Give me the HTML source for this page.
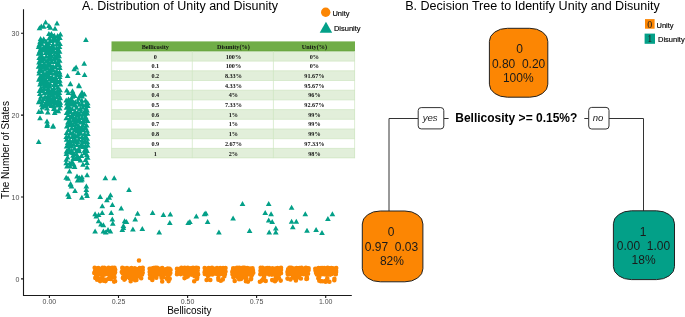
<!DOCTYPE html>
<html><head><meta charset="utf-8">
<style>
html,body{margin:0;padding:0;background:#fff;width:685px;height:317px;overflow:hidden}
svg{display:block}
.s{font-family:"Liberation Sans",sans-serif}
.tb{font-family:"Liberation Serif",serif;font-weight:bold;font-size:6.6px;fill:#111}
.ax{font-family:"Liberation Sans",sans-serif;font-size:7px;fill:#4D4D4D}
</style></head>
<body>
<div style="will-change:transform;width:685px;height:317px"><svg width="685" height="317" viewBox="0 0 685 317">
<!-- titles -->
<text class="s" x="82" y="9.6" font-size="12.5" fill="#000">A. Distribution of Unity and Disunity</text>
<text class="s" x="405.2" y="9.6" font-size="12.55" fill="#000">B. Decision Tree to Identify Unity and Disunity</text>

<!-- legend A -->
<circle cx="325.7" cy="12.3" r="4.7" fill="#FC8603"/>
<text class="s" x="332.4" y="15.9" font-size="7.5" fill="#000" stroke="#000" stroke-width="0.15">Unity</text>
<polygon points="319.7,32.8 332.2,32.8 325.95,21.7" fill="#03A088"/>
<text class="s" x="333.9" y="31.3" font-size="7.5" fill="#000" stroke="#000" stroke-width="0.15">Disunity</text>

<!-- axes -->
<g stroke="#1a1a1a" stroke-width="1.1" fill="none">
<path d="M23.5 9.2V295.5H351.8"/>
<path d="M21 278.9H23.5M21 197H23.5M21 115.1H23.5M21 33.2H23.5"/>
<path d="M49.4 295.5V298M118.5 295.5V298M187.6 295.5V298M256.6 295.5V298M325.7 295.5V298"/>
</g>
<g class="ax" text-anchor="end">
<text x="19.4" y="281.9">0</text>
<text x="19.4" y="200">10</text>
<text x="19.4" y="118.1">20</text>
<text x="19.4" y="36.2">30</text>
</g>
<g class="ax" text-anchor="middle">
<text x="49.4" y="304.2">0.00</text>
<text x="118.5" y="304.2">0.25</text>
<text x="187.6" y="304.2">0.50</text>
<text x="256.6" y="304.2">0.75</text>
<text x="325.7" y="304.2">1.00</text>
</g>
<text class="s" x="189.4" y="314.3" font-size="10" text-anchor="middle" fill="#000">Bellicosity</text>
<text class="s" transform="translate(8.6,150) rotate(-90)" font-size="10" text-anchor="middle" fill="#000">The Number of States</text>

<!-- scatter -->
<path fill="#FC8603" d="M98.5 269.0a2.3 2.3 0 1 0 4.6 0a2.3 2.3 0 1 0 -4.6 0zM101.5 271.0a2.3 2.3 0 1 0 4.6 0a2.3 2.3 0 1 0 -4.6 0zM108.3 269.3a2.3 2.3 0 1 0 4.6 0a2.3 2.3 0 1 0 -4.6 0zM107.4 272.6a2.3 2.3 0 1 0 4.6 0a2.3 2.3 0 1 0 -4.6 0zM93.6 272.8a2.3 2.3 0 1 0 4.6 0a2.3 2.3 0 1 0 -4.6 0zM96.8 272.6a2.3 2.3 0 1 0 4.6 0a2.3 2.3 0 1 0 -4.6 0zM104.1 270.1a2.3 2.3 0 1 0 4.6 0a2.3 2.3 0 1 0 -4.6 0zM111.1 269.2a2.3 2.3 0 1 0 4.6 0a2.3 2.3 0 1 0 -4.6 0zM101.0 269.3a2.3 2.3 0 1 0 4.6 0a2.3 2.3 0 1 0 -4.6 0zM100.3 274.2a2.3 2.3 0 1 0 4.6 0a2.3 2.3 0 1 0 -4.6 0zM93.0 269.5a2.3 2.3 0 1 0 4.6 0a2.3 2.3 0 1 0 -4.6 0zM105.5 273.5a2.3 2.3 0 1 0 4.6 0a2.3 2.3 0 1 0 -4.6 0zM109.2 272.4a2.3 2.3 0 1 0 4.6 0a2.3 2.3 0 1 0 -4.6 0zM106.3 267.9a2.3 2.3 0 1 0 4.6 0a2.3 2.3 0 1 0 -4.6 0zM94.0 268.2a2.3 2.3 0 1 0 4.6 0a2.3 2.3 0 1 0 -4.6 0zM94.3 271.1a2.3 2.3 0 1 0 4.6 0a2.3 2.3 0 1 0 -4.6 0zM106.9 274.4a2.3 2.3 0 1 0 4.6 0a2.3 2.3 0 1 0 -4.6 0zM112.2 273.7a2.3 2.3 0 1 0 4.6 0a2.3 2.3 0 1 0 -4.6 0zM111.7 270.8a2.3 2.3 0 1 0 4.6 0a2.3 2.3 0 1 0 -4.6 0zM109.0 274.1a2.3 2.3 0 1 0 4.6 0a2.3 2.3 0 1 0 -4.6 0zM98.8 272.6a2.3 2.3 0 1 0 4.6 0a2.3 2.3 0 1 0 -4.6 0zM112.2 267.8a2.3 2.3 0 1 0 4.6 0a2.3 2.3 0 1 0 -4.6 0zM96.0 268.0a2.3 2.3 0 1 0 4.6 0a2.3 2.3 0 1 0 -4.6 0zM110.6 273.2a2.3 2.3 0 1 0 4.6 0a2.3 2.3 0 1 0 -4.6 0zM99.5 270.8a2.3 2.3 0 1 0 4.6 0a2.3 2.3 0 1 0 -4.6 0zM98.1 274.5a2.3 2.3 0 1 0 4.6 0a2.3 2.3 0 1 0 -4.6 0zM105.5 271.0a2.3 2.3 0 1 0 4.6 0a2.3 2.3 0 1 0 -4.6 0zM100.4 272.2a2.3 2.3 0 1 0 4.6 0a2.3 2.3 0 1 0 -4.6 0zM103.9 272.3a2.3 2.3 0 1 0 4.6 0a2.3 2.3 0 1 0 -4.6 0zM92.0 272.9a2.3 2.3 0 1 0 4.6 0a2.3 2.3 0 1 0 -4.6 0zM103.4 268.6a2.3 2.3 0 1 0 4.6 0a2.3 2.3 0 1 0 -4.6 0zM108.5 270.9a2.3 2.3 0 1 0 4.6 0a2.3 2.3 0 1 0 -4.6 0zM92.7 271.4a2.3 2.3 0 1 0 4.6 0a2.3 2.3 0 1 0 -4.6 0zM101.9 274.6a2.3 2.3 0 1 0 4.6 0a2.3 2.3 0 1 0 -4.6 0zM97.5 270.8a2.3 2.3 0 1 0 4.6 0a2.3 2.3 0 1 0 -4.6 0zM93.6 274.6a2.3 2.3 0 1 0 4.6 0a2.3 2.3 0 1 0 -4.6 0zM95.5 274.1a2.3 2.3 0 1 0 4.6 0a2.3 2.3 0 1 0 -4.6 0zM92.4 267.8a2.3 2.3 0 1 0 4.6 0a2.3 2.3 0 1 0 -4.6 0zM95.9 269.6a2.3 2.3 0 1 0 4.6 0a2.3 2.3 0 1 0 -4.6 0zM100.2 267.8a2.3 2.3 0 1 0 4.6 0a2.3 2.3 0 1 0 -4.6 0zM109.9 267.8a2.3 2.3 0 1 0 4.6 0a2.3 2.3 0 1 0 -4.6 0zM103.4 274.1a2.3 2.3 0 1 0 4.6 0a2.3 2.3 0 1 0 -4.6 0zM112.8 272.2a2.3 2.3 0 1 0 4.6 0a2.3 2.3 0 1 0 -4.6 0zM101.9 267.7a2.3 2.3 0 1 0 4.6 0a2.3 2.3 0 1 0 -4.6 0zM102.3 272.6a2.3 2.3 0 1 0 4.6 0a2.3 2.3 0 1 0 -4.6 0zM106.6 269.5a2.3 2.3 0 1 0 4.6 0a2.3 2.3 0 1 0 -4.6 0zM112.9 269.7a2.3 2.3 0 1 0 4.6 0a2.3 2.3 0 1 0 -4.6 0zM101.4 280.7a2.3 2.3 0 1 0 4.6 0a2.3 2.3 0 1 0 -4.6 0zM97.8 281.1a2.3 2.3 0 1 0 4.6 0a2.3 2.3 0 1 0 -4.6 0zM102.6 279.7a2.3 2.3 0 1 0 4.6 0a2.3 2.3 0 1 0 -4.6 0zM101.5 279.2a2.3 2.3 0 1 0 4.6 0a2.3 2.3 0 1 0 -4.6 0zM112.2 277.3a2.3 2.3 0 1 0 4.6 0a2.3 2.3 0 1 0 -4.6 0zM106.1 278.7a2.3 2.3 0 1 0 4.6 0a2.3 2.3 0 1 0 -4.6 0zM94.7 276.1a2.3 2.3 0 1 0 4.6 0a2.3 2.3 0 1 0 -4.6 0zM99.8 278.6a2.3 2.3 0 1 0 4.6 0a2.3 2.3 0 1 0 -4.6 0zM96.4 278.7a2.3 2.3 0 1 0 4.6 0a2.3 2.3 0 1 0 -4.6 0zM111.8 281.6a2.3 2.3 0 1 0 4.6 0a2.3 2.3 0 1 0 -4.6 0zM100.8 279.7a2.3 2.3 0 1 0 4.6 0a2.3 2.3 0 1 0 -4.6 0zM112.8 281.3a2.3 2.3 0 1 0 4.6 0a2.3 2.3 0 1 0 -4.6 0zM93.0 277.9a2.3 2.3 0 1 0 4.6 0a2.3 2.3 0 1 0 -4.6 0zM107.3 278.0a2.3 2.3 0 1 0 4.6 0a2.3 2.3 0 1 0 -4.6 0zM103.2 281.1a2.3 2.3 0 1 0 4.6 0a2.3 2.3 0 1 0 -4.6 0zM108.3 279.0a2.3 2.3 0 1 0 4.6 0a2.3 2.3 0 1 0 -4.6 0zM103.5 280.4a2.3 2.3 0 1 0 4.6 0a2.3 2.3 0 1 0 -4.6 0zM94.3 276.3a2.3 2.3 0 1 0 4.6 0a2.3 2.3 0 1 0 -4.6 0zM110.8 276.5a2.3 2.3 0 1 0 4.6 0a2.3 2.3 0 1 0 -4.6 0zM107.2 275.8a2.3 2.3 0 1 0 4.6 0a2.3 2.3 0 1 0 -4.6 0zM101.6 280.5a2.3 2.3 0 1 0 4.6 0a2.3 2.3 0 1 0 -4.6 0zM94.8 279.8a2.3 2.3 0 1 0 4.6 0a2.3 2.3 0 1 0 -4.6 0zM130.5 269.0a2.3 2.3 0 1 0 4.6 0a2.3 2.3 0 1 0 -4.6 0zM139.2 271.7a2.3 2.3 0 1 0 4.6 0a2.3 2.3 0 1 0 -4.6 0zM136.2 274.4a2.3 2.3 0 1 0 4.6 0a2.3 2.3 0 1 0 -4.6 0zM132.5 272.6a2.3 2.3 0 1 0 4.6 0a2.3 2.3 0 1 0 -4.6 0zM135.3 270.6a2.3 2.3 0 1 0 4.6 0a2.3 2.3 0 1 0 -4.6 0zM128.1 269.9a2.3 2.3 0 1 0 4.6 0a2.3 2.3 0 1 0 -4.6 0zM134.3 273.8a2.3 2.3 0 1 0 4.6 0a2.3 2.3 0 1 0 -4.6 0zM123.7 273.1a2.3 2.3 0 1 0 4.6 0a2.3 2.3 0 1 0 -4.6 0zM136.3 272.3a2.3 2.3 0 1 0 4.6 0a2.3 2.3 0 1 0 -4.6 0zM127.2 273.9a2.3 2.3 0 1 0 4.6 0a2.3 2.3 0 1 0 -4.6 0zM130.0 270.8a2.3 2.3 0 1 0 4.6 0a2.3 2.3 0 1 0 -4.6 0zM140.4 267.8a2.3 2.3 0 1 0 4.6 0a2.3 2.3 0 1 0 -4.6 0zM129.1 268.0a2.3 2.3 0 1 0 4.6 0a2.3 2.3 0 1 0 -4.6 0zM121.6 268.2a2.3 2.3 0 1 0 4.6 0a2.3 2.3 0 1 0 -4.6 0zM138.7 269.6a2.3 2.3 0 1 0 4.6 0a2.3 2.3 0 1 0 -4.6 0zM123.1 271.2a2.3 2.3 0 1 0 4.6 0a2.3 2.3 0 1 0 -4.6 0zM135.6 269.0a2.3 2.3 0 1 0 4.6 0a2.3 2.3 0 1 0 -4.6 0zM125.1 270.2a2.3 2.3 0 1 0 4.6 0a2.3 2.3 0 1 0 -4.6 0zM122.5 274.4a2.3 2.3 0 1 0 4.6 0a2.3 2.3 0 1 0 -4.6 0zM120.4 273.5a2.3 2.3 0 1 0 4.6 0a2.3 2.3 0 1 0 -4.6 0zM134.0 271.7a2.3 2.3 0 1 0 4.6 0a2.3 2.3 0 1 0 -4.6 0zM137.4 268.0a2.3 2.3 0 1 0 4.6 0a2.3 2.3 0 1 0 -4.6 0zM132.5 268.3a2.3 2.3 0 1 0 4.6 0a2.3 2.3 0 1 0 -4.6 0zM120.3 270.4a2.3 2.3 0 1 0 4.6 0a2.3 2.3 0 1 0 -4.6 0zM139.8 274.5a2.3 2.3 0 1 0 4.6 0a2.3 2.3 0 1 0 -4.6 0zM120.0 267.9a2.3 2.3 0 1 0 4.6 0a2.3 2.3 0 1 0 -4.6 0zM131.3 274.2a2.3 2.3 0 1 0 4.6 0a2.3 2.3 0 1 0 -4.6 0zM127.4 271.8a2.3 2.3 0 1 0 4.6 0a2.3 2.3 0 1 0 -4.6 0zM129.6 273.6a2.3 2.3 0 1 0 4.6 0a2.3 2.3 0 1 0 -4.6 0zM131.8 270.3a2.3 2.3 0 1 0 4.6 0a2.3 2.3 0 1 0 -4.6 0zM125.7 272.6a2.3 2.3 0 1 0 4.6 0a2.3 2.3 0 1 0 -4.6 0zM123.3 268.9a2.3 2.3 0 1 0 4.6 0a2.3 2.3 0 1 0 -4.6 0zM125.2 274.3a2.3 2.3 0 1 0 4.6 0a2.3 2.3 0 1 0 -4.6 0zM126.0 268.9a2.3 2.3 0 1 0 4.6 0a2.3 2.3 0 1 0 -4.6 0zM137.5 273.4a2.3 2.3 0 1 0 4.6 0a2.3 2.3 0 1 0 -4.6 0zM137.5 270.9a2.3 2.3 0 1 0 4.6 0a2.3 2.3 0 1 0 -4.6 0zM124.7 268.0a2.3 2.3 0 1 0 4.6 0a2.3 2.3 0 1 0 -4.6 0zM140.4 269.9a2.3 2.3 0 1 0 4.6 0a2.3 2.3 0 1 0 -4.6 0zM121.9 272.7a2.3 2.3 0 1 0 4.6 0a2.3 2.3 0 1 0 -4.6 0zM119.5 272.0a2.3 2.3 0 1 0 4.6 0a2.3 2.3 0 1 0 -4.6 0zM133.9 269.2a2.3 2.3 0 1 0 4.6 0a2.3 2.3 0 1 0 -4.6 0zM130.8 272.3a2.3 2.3 0 1 0 4.6 0a2.3 2.3 0 1 0 -4.6 0zM140.4 272.8a2.3 2.3 0 1 0 4.6 0a2.3 2.3 0 1 0 -4.6 0zM132.8 280.2a2.3 2.3 0 1 0 4.6 0a2.3 2.3 0 1 0 -4.6 0zM134.1 279.9a2.3 2.3 0 1 0 4.6 0a2.3 2.3 0 1 0 -4.6 0zM120.6 277.9a2.3 2.3 0 1 0 4.6 0a2.3 2.3 0 1 0 -4.6 0zM122.4 278.3a2.3 2.3 0 1 0 4.6 0a2.3 2.3 0 1 0 -4.6 0zM138.9 278.2a2.3 2.3 0 1 0 4.6 0a2.3 2.3 0 1 0 -4.6 0zM123.1 276.0a2.3 2.3 0 1 0 4.6 0a2.3 2.3 0 1 0 -4.6 0zM126.0 277.0a2.3 2.3 0 1 0 4.6 0a2.3 2.3 0 1 0 -4.6 0zM129.5 277.2a2.3 2.3 0 1 0 4.6 0a2.3 2.3 0 1 0 -4.6 0zM132.4 277.8a2.3 2.3 0 1 0 4.6 0a2.3 2.3 0 1 0 -4.6 0zM129.8 279.0a2.3 2.3 0 1 0 4.6 0a2.3 2.3 0 1 0 -4.6 0zM122.0 279.6a2.3 2.3 0 1 0 4.6 0a2.3 2.3 0 1 0 -4.6 0zM135.6 276.4a2.3 2.3 0 1 0 4.6 0a2.3 2.3 0 1 0 -4.6 0zM128.4 281.3a2.3 2.3 0 1 0 4.6 0a2.3 2.3 0 1 0 -4.6 0zM127.9 278.0a2.3 2.3 0 1 0 4.6 0a2.3 2.3 0 1 0 -4.6 0zM122.6 279.0a2.3 2.3 0 1 0 4.6 0a2.3 2.3 0 1 0 -4.6 0zM127.2 278.1a2.3 2.3 0 1 0 4.6 0a2.3 2.3 0 1 0 -4.6 0zM163.4 269.2a2.3 2.3 0 1 0 4.6 0a2.3 2.3 0 1 0 -4.6 0zM151.1 268.1a2.3 2.3 0 1 0 4.6 0a2.3 2.3 0 1 0 -4.6 0zM153.3 273.4a2.3 2.3 0 1 0 4.6 0a2.3 2.3 0 1 0 -4.6 0zM153.3 269.8a2.3 2.3 0 1 0 4.6 0a2.3 2.3 0 1 0 -4.6 0zM165.8 273.4a2.3 2.3 0 1 0 4.6 0a2.3 2.3 0 1 0 -4.6 0zM155.7 270.5a2.3 2.3 0 1 0 4.6 0a2.3 2.3 0 1 0 -4.6 0zM147.4 271.9a2.3 2.3 0 1 0 4.6 0a2.3 2.3 0 1 0 -4.6 0zM167.3 268.7a2.3 2.3 0 1 0 4.6 0a2.3 2.3 0 1 0 -4.6 0zM165.5 268.6a2.3 2.3 0 1 0 4.6 0a2.3 2.3 0 1 0 -4.6 0zM151.5 272.2a2.3 2.3 0 1 0 4.6 0a2.3 2.3 0 1 0 -4.6 0zM157.6 271.6a2.3 2.3 0 1 0 4.6 0a2.3 2.3 0 1 0 -4.6 0zM160.4 271.8a2.3 2.3 0 1 0 4.6 0a2.3 2.3 0 1 0 -4.6 0zM162.7 271.7a2.3 2.3 0 1 0 4.6 0a2.3 2.3 0 1 0 -4.6 0zM168.0 273.0a2.3 2.3 0 1 0 4.6 0a2.3 2.3 0 1 0 -4.6 0zM157.3 268.8a2.3 2.3 0 1 0 4.6 0a2.3 2.3 0 1 0 -4.6 0zM148.3 270.1a2.3 2.3 0 1 0 4.6 0a2.3 2.3 0 1 0 -4.6 0zM158.9 269.3a2.3 2.3 0 1 0 4.6 0a2.3 2.3 0 1 0 -4.6 0zM161.8 269.2a2.3 2.3 0 1 0 4.6 0a2.3 2.3 0 1 0 -4.6 0zM149.0 272.7a2.3 2.3 0 1 0 4.6 0a2.3 2.3 0 1 0 -4.6 0zM161.6 274.0a2.3 2.3 0 1 0 4.6 0a2.3 2.3 0 1 0 -4.6 0zM154.8 267.7a2.3 2.3 0 1 0 4.6 0a2.3 2.3 0 1 0 -4.6 0zM159.9 268.1a2.3 2.3 0 1 0 4.6 0a2.3 2.3 0 1 0 -4.6 0zM156.0 272.1a2.3 2.3 0 1 0 4.6 0a2.3 2.3 0 1 0 -4.6 0zM159.9 274.4a2.3 2.3 0 1 0 4.6 0a2.3 2.3 0 1 0 -4.6 0zM166.5 270.8a2.3 2.3 0 1 0 4.6 0a2.3 2.3 0 1 0 -4.6 0zM164.5 271.8a2.3 2.3 0 1 0 4.6 0a2.3 2.3 0 1 0 -4.6 0zM149.1 268.8a2.3 2.3 0 1 0 4.6 0a2.3 2.3 0 1 0 -4.6 0zM147.6 274.5a2.3 2.3 0 1 0 4.6 0a2.3 2.3 0 1 0 -4.6 0zM158.8 273.0a2.3 2.3 0 1 0 4.6 0a2.3 2.3 0 1 0 -4.6 0zM149.9 274.3a2.3 2.3 0 1 0 4.6 0a2.3 2.3 0 1 0 -4.6 0zM152.9 267.8a2.3 2.3 0 1 0 4.6 0a2.3 2.3 0 1 0 -4.6 0zM156.2 274.3a2.3 2.3 0 1 0 4.6 0a2.3 2.3 0 1 0 -4.6 0zM164.1 273.9a2.3 2.3 0 1 0 4.6 0a2.3 2.3 0 1 0 -4.6 0zM149.8 270.7a2.3 2.3 0 1 0 4.6 0a2.3 2.3 0 1 0 -4.6 0zM151.5 270.5a2.3 2.3 0 1 0 4.6 0a2.3 2.3 0 1 0 -4.6 0zM153.9 271.6a2.3 2.3 0 1 0 4.6 0a2.3 2.3 0 1 0 -4.6 0zM151.7 274.3a2.3 2.3 0 1 0 4.6 0a2.3 2.3 0 1 0 -4.6 0zM168.2 270.0a2.3 2.3 0 1 0 4.6 0a2.3 2.3 0 1 0 -4.6 0zM154.5 274.5a2.3 2.3 0 1 0 4.6 0a2.3 2.3 0 1 0 -4.6 0zM147.3 268.8a2.3 2.3 0 1 0 4.6 0a2.3 2.3 0 1 0 -4.6 0zM157.9 274.6a2.3 2.3 0 1 0 4.6 0a2.3 2.3 0 1 0 -4.6 0zM167.3 274.5a2.3 2.3 0 1 0 4.6 0a2.3 2.3 0 1 0 -4.6 0zM164.5 278.8a2.3 2.3 0 1 0 4.6 0a2.3 2.3 0 1 0 -4.6 0zM150.3 276.1a2.3 2.3 0 1 0 4.6 0a2.3 2.3 0 1 0 -4.6 0zM153.8 276.2a2.3 2.3 0 1 0 4.6 0a2.3 2.3 0 1 0 -4.6 0zM147.7 277.9a2.3 2.3 0 1 0 4.6 0a2.3 2.3 0 1 0 -4.6 0zM150.0 279.9a2.3 2.3 0 1 0 4.6 0a2.3 2.3 0 1 0 -4.6 0zM166.3 281.1a2.3 2.3 0 1 0 4.6 0a2.3 2.3 0 1 0 -4.6 0zM154.0 277.8a2.3 2.3 0 1 0 4.6 0a2.3 2.3 0 1 0 -4.6 0zM161.1 277.1a2.3 2.3 0 1 0 4.6 0a2.3 2.3 0 1 0 -4.6 0zM159.3 277.8a2.3 2.3 0 1 0 4.6 0a2.3 2.3 0 1 0 -4.6 0zM167.4 278.8a2.3 2.3 0 1 0 4.6 0a2.3 2.3 0 1 0 -4.6 0zM159.9 281.5a2.3 2.3 0 1 0 4.6 0a2.3 2.3 0 1 0 -4.6 0zM165.5 278.0a2.3 2.3 0 1 0 4.6 0a2.3 2.3 0 1 0 -4.6 0zM165.3 278.0a2.3 2.3 0 1 0 4.6 0a2.3 2.3 0 1 0 -4.6 0zM150.9 276.3a2.3 2.3 0 1 0 4.6 0a2.3 2.3 0 1 0 -4.6 0zM186.8 273.9a2.3 2.3 0 1 0 4.6 0a2.3 2.3 0 1 0 -4.6 0zM184.1 272.4a2.3 2.3 0 1 0 4.6 0a2.3 2.3 0 1 0 -4.6 0zM177.6 268.8a2.3 2.3 0 1 0 4.6 0a2.3 2.3 0 1 0 -4.6 0zM181.3 273.7a2.3 2.3 0 1 0 4.6 0a2.3 2.3 0 1 0 -4.6 0zM190.4 272.4a2.3 2.3 0 1 0 4.6 0a2.3 2.3 0 1 0 -4.6 0zM174.7 274.3a2.3 2.3 0 1 0 4.6 0a2.3 2.3 0 1 0 -4.6 0zM178.8 271.4a2.3 2.3 0 1 0 4.6 0a2.3 2.3 0 1 0 -4.6 0zM193.9 267.7a2.3 2.3 0 1 0 4.6 0a2.3 2.3 0 1 0 -4.6 0zM178.4 274.1a2.3 2.3 0 1 0 4.6 0a2.3 2.3 0 1 0 -4.6 0zM188.9 274.6a2.3 2.3 0 1 0 4.6 0a2.3 2.3 0 1 0 -4.6 0zM195.2 272.4a2.3 2.3 0 1 0 4.6 0a2.3 2.3 0 1 0 -4.6 0zM185.9 271.8a2.3 2.3 0 1 0 4.6 0a2.3 2.3 0 1 0 -4.6 0zM188.0 268.3a2.3 2.3 0 1 0 4.6 0a2.3 2.3 0 1 0 -4.6 0zM176.5 273.1a2.3 2.3 0 1 0 4.6 0a2.3 2.3 0 1 0 -4.6 0zM189.5 268.9a2.3 2.3 0 1 0 4.6 0a2.3 2.3 0 1 0 -4.6 0zM184.2 268.8a2.3 2.3 0 1 0 4.6 0a2.3 2.3 0 1 0 -4.6 0zM181.0 268.8a2.3 2.3 0 1 0 4.6 0a2.3 2.3 0 1 0 -4.6 0zM182.9 274.3a2.3 2.3 0 1 0 4.6 0a2.3 2.3 0 1 0 -4.6 0zM175.6 270.3a2.3 2.3 0 1 0 4.6 0a2.3 2.3 0 1 0 -4.6 0zM185.8 270.0a2.3 2.3 0 1 0 4.6 0a2.3 2.3 0 1 0 -4.6 0zM195.3 270.4a2.3 2.3 0 1 0 4.6 0a2.3 2.3 0 1 0 -4.6 0zM192.0 269.3a2.3 2.3 0 1 0 4.6 0a2.3 2.3 0 1 0 -4.6 0zM180.9 270.8a2.3 2.3 0 1 0 4.6 0a2.3 2.3 0 1 0 -4.6 0zM192.4 274.0a2.3 2.3 0 1 0 4.6 0a2.3 2.3 0 1 0 -4.6 0zM188.4 271.3a2.3 2.3 0 1 0 4.6 0a2.3 2.3 0 1 0 -4.6 0zM193.6 271.8a2.3 2.3 0 1 0 4.6 0a2.3 2.3 0 1 0 -4.6 0zM182.7 269.5a2.3 2.3 0 1 0 4.6 0a2.3 2.3 0 1 0 -4.6 0zM174.9 272.1a2.3 2.3 0 1 0 4.6 0a2.3 2.3 0 1 0 -4.6 0zM195.6 268.0a2.3 2.3 0 1 0 4.6 0a2.3 2.3 0 1 0 -4.6 0zM179.1 267.8a2.3 2.3 0 1 0 4.6 0a2.3 2.3 0 1 0 -4.6 0zM180.2 272.4a2.3 2.3 0 1 0 4.6 0a2.3 2.3 0 1 0 -4.6 0zM174.7 268.9a2.3 2.3 0 1 0 4.6 0a2.3 2.3 0 1 0 -4.6 0zM183.1 271.0a2.3 2.3 0 1 0 4.6 0a2.3 2.3 0 1 0 -4.6 0zM185.5 267.7a2.3 2.3 0 1 0 4.6 0a2.3 2.3 0 1 0 -4.6 0zM190.0 270.6a2.3 2.3 0 1 0 4.6 0a2.3 2.3 0 1 0 -4.6 0zM194.0 274.3a2.3 2.3 0 1 0 4.6 0a2.3 2.3 0 1 0 -4.6 0zM191.6 271.1a2.3 2.3 0 1 0 4.6 0a2.3 2.3 0 1 0 -4.6 0zM184.6 273.9a2.3 2.3 0 1 0 4.6 0a2.3 2.3 0 1 0 -4.6 0zM179.0 269.8a2.3 2.3 0 1 0 4.6 0a2.3 2.3 0 1 0 -4.6 0zM190.7 267.9a2.3 2.3 0 1 0 4.6 0a2.3 2.3 0 1 0 -4.6 0zM190.7 274.2a2.3 2.3 0 1 0 4.6 0a2.3 2.3 0 1 0 -4.6 0zM187.5 269.8a2.3 2.3 0 1 0 4.6 0a2.3 2.3 0 1 0 -4.6 0zM177.1 271.1a2.3 2.3 0 1 0 4.6 0a2.3 2.3 0 1 0 -4.6 0zM182.5 272.6a2.3 2.3 0 1 0 4.6 0a2.3 2.3 0 1 0 -4.6 0zM182.4 267.8a2.3 2.3 0 1 0 4.6 0a2.3 2.3 0 1 0 -4.6 0zM195.8 274.4a2.3 2.3 0 1 0 4.6 0a2.3 2.3 0 1 0 -4.6 0zM193.6 269.7a2.3 2.3 0 1 0 4.6 0a2.3 2.3 0 1 0 -4.6 0zM183.7 277.2a2.3 2.3 0 1 0 4.6 0a2.3 2.3 0 1 0 -4.6 0zM192.2 276.2a2.3 2.3 0 1 0 4.6 0a2.3 2.3 0 1 0 -4.6 0zM182.2 278.1a2.3 2.3 0 1 0 4.6 0a2.3 2.3 0 1 0 -4.6 0zM185.4 276.5a2.3 2.3 0 1 0 4.6 0a2.3 2.3 0 1 0 -4.6 0zM194.9 277.6a2.3 2.3 0 1 0 4.6 0a2.3 2.3 0 1 0 -4.6 0zM191.9 281.3a2.3 2.3 0 1 0 4.6 0a2.3 2.3 0 1 0 -4.6 0zM194.8 278.8a2.3 2.3 0 1 0 4.6 0a2.3 2.3 0 1 0 -4.6 0zM193.5 276.0a2.3 2.3 0 1 0 4.6 0a2.3 2.3 0 1 0 -4.6 0zM222.6 274.2a2.3 2.3 0 1 0 4.6 0a2.3 2.3 0 1 0 -4.6 0zM206.4 268.0a2.3 2.3 0 1 0 4.6 0a2.3 2.3 0 1 0 -4.6 0zM220.8 268.0a2.3 2.3 0 1 0 4.6 0a2.3 2.3 0 1 0 -4.6 0zM211.2 271.2a2.3 2.3 0 1 0 4.6 0a2.3 2.3 0 1 0 -4.6 0zM220.6 270.6a2.3 2.3 0 1 0 4.6 0a2.3 2.3 0 1 0 -4.6 0zM208.5 273.6a2.3 2.3 0 1 0 4.6 0a2.3 2.3 0 1 0 -4.6 0zM208.1 268.8a2.3 2.3 0 1 0 4.6 0a2.3 2.3 0 1 0 -4.6 0zM219.0 272.8a2.3 2.3 0 1 0 4.6 0a2.3 2.3 0 1 0 -4.6 0zM205.5 274.5a2.3 2.3 0 1 0 4.6 0a2.3 2.3 0 1 0 -4.6 0zM207.1 271.6a2.3 2.3 0 1 0 4.6 0a2.3 2.3 0 1 0 -4.6 0zM204.9 268.7a2.3 2.3 0 1 0 4.6 0a2.3 2.3 0 1 0 -4.6 0zM222.3 270.0a2.3 2.3 0 1 0 4.6 0a2.3 2.3 0 1 0 -4.6 0zM217.1 274.5a2.3 2.3 0 1 0 4.6 0a2.3 2.3 0 1 0 -4.6 0zM206.5 269.9a2.3 2.3 0 1 0 4.6 0a2.3 2.3 0 1 0 -4.6 0zM215.1 270.3a2.3 2.3 0 1 0 4.6 0a2.3 2.3 0 1 0 -4.6 0zM219.6 269.0a2.3 2.3 0 1 0 4.6 0a2.3 2.3 0 1 0 -4.6 0zM202.4 268.1a2.3 2.3 0 1 0 4.6 0a2.3 2.3 0 1 0 -4.6 0zM220.1 274.1a2.3 2.3 0 1 0 4.6 0a2.3 2.3 0 1 0 -4.6 0zM216.3 269.0a2.3 2.3 0 1 0 4.6 0a2.3 2.3 0 1 0 -4.6 0zM213.1 268.5a2.3 2.3 0 1 0 4.6 0a2.3 2.3 0 1 0 -4.6 0zM213.7 273.7a2.3 2.3 0 1 0 4.6 0a2.3 2.3 0 1 0 -4.6 0zM223.2 271.6a2.3 2.3 0 1 0 4.6 0a2.3 2.3 0 1 0 -4.6 0zM208.6 270.7a2.3 2.3 0 1 0 4.6 0a2.3 2.3 0 1 0 -4.6 0zM202.5 274.0a2.3 2.3 0 1 0 4.6 0a2.3 2.3 0 1 0 -4.6 0zM215.4 274.1a2.3 2.3 0 1 0 4.6 0a2.3 2.3 0 1 0 -4.6 0zM205.6 272.8a2.3 2.3 0 1 0 4.6 0a2.3 2.3 0 1 0 -4.6 0zM223.2 268.0a2.3 2.3 0 1 0 4.6 0a2.3 2.3 0 1 0 -4.6 0zM202.7 270.7a2.3 2.3 0 1 0 4.6 0a2.3 2.3 0 1 0 -4.6 0zM216.7 271.2a2.3 2.3 0 1 0 4.6 0a2.3 2.3 0 1 0 -4.6 0zM214.3 272.1a2.3 2.3 0 1 0 4.6 0a2.3 2.3 0 1 0 -4.6 0zM212.7 270.8a2.3 2.3 0 1 0 4.6 0a2.3 2.3 0 1 0 -4.6 0zM211.4 273.7a2.3 2.3 0 1 0 4.6 0a2.3 2.3 0 1 0 -4.6 0zM204.0 273.0a2.3 2.3 0 1 0 4.6 0a2.3 2.3 0 1 0 -4.6 0zM211.2 268.8a2.3 2.3 0 1 0 4.6 0a2.3 2.3 0 1 0 -4.6 0zM220.9 272.7a2.3 2.3 0 1 0 4.6 0a2.3 2.3 0 1 0 -4.6 0zM218.1 270.1a2.3 2.3 0 1 0 4.6 0a2.3 2.3 0 1 0 -4.6 0zM217.9 268.0a2.3 2.3 0 1 0 4.6 0a2.3 2.3 0 1 0 -4.6 0zM217.0 272.9a2.3 2.3 0 1 0 4.6 0a2.3 2.3 0 1 0 -4.6 0zM204.4 270.7a2.3 2.3 0 1 0 4.6 0a2.3 2.3 0 1 0 -4.6 0zM202.3 272.3a2.3 2.3 0 1 0 4.6 0a2.3 2.3 0 1 0 -4.6 0zM209.7 272.0a2.3 2.3 0 1 0 4.6 0a2.3 2.3 0 1 0 -4.6 0zM209.6 269.5a2.3 2.3 0 1 0 4.6 0a2.3 2.3 0 1 0 -4.6 0zM212.4 272.4a2.3 2.3 0 1 0 4.6 0a2.3 2.3 0 1 0 -4.6 0zM214.7 268.0a2.3 2.3 0 1 0 4.6 0a2.3 2.3 0 1 0 -4.6 0zM209.7 267.9a2.3 2.3 0 1 0 4.6 0a2.3 2.3 0 1 0 -4.6 0zM207.2 274.6a2.3 2.3 0 1 0 4.6 0a2.3 2.3 0 1 0 -4.6 0zM209.9 274.4a2.3 2.3 0 1 0 4.6 0a2.3 2.3 0 1 0 -4.6 0zM216.0 278.0a2.3 2.3 0 1 0 4.6 0a2.3 2.3 0 1 0 -4.6 0zM216.1 279.8a2.3 2.3 0 1 0 4.6 0a2.3 2.3 0 1 0 -4.6 0zM204.3 280.0a2.3 2.3 0 1 0 4.6 0a2.3 2.3 0 1 0 -4.6 0zM218.5 280.7a2.3 2.3 0 1 0 4.6 0a2.3 2.3 0 1 0 -4.6 0zM220.5 279.4a2.3 2.3 0 1 0 4.6 0a2.3 2.3 0 1 0 -4.6 0zM208.0 280.0a2.3 2.3 0 1 0 4.6 0a2.3 2.3 0 1 0 -4.6 0zM205.6 276.1a2.3 2.3 0 1 0 4.6 0a2.3 2.3 0 1 0 -4.6 0zM222.1 276.3a2.3 2.3 0 1 0 4.6 0a2.3 2.3 0 1 0 -4.6 0zM232.6 270.4a2.3 2.3 0 1 0 4.6 0a2.3 2.3 0 1 0 -4.6 0zM250.2 268.3a2.3 2.3 0 1 0 4.6 0a2.3 2.3 0 1 0 -4.6 0zM237.5 269.4a2.3 2.3 0 1 0 4.6 0a2.3 2.3 0 1 0 -4.6 0zM233.1 268.3a2.3 2.3 0 1 0 4.6 0a2.3 2.3 0 1 0 -4.6 0zM250.6 270.3a2.3 2.3 0 1 0 4.6 0a2.3 2.3 0 1 0 -4.6 0zM240.9 272.7a2.3 2.3 0 1 0 4.6 0a2.3 2.3 0 1 0 -4.6 0zM242.8 270.9a2.3 2.3 0 1 0 4.6 0a2.3 2.3 0 1 0 -4.6 0zM248.5 268.6a2.3 2.3 0 1 0 4.6 0a2.3 2.3 0 1 0 -4.6 0zM239.4 269.0a2.3 2.3 0 1 0 4.6 0a2.3 2.3 0 1 0 -4.6 0zM246.7 270.5a2.3 2.3 0 1 0 4.6 0a2.3 2.3 0 1 0 -4.6 0zM245.1 271.7a2.3 2.3 0 1 0 4.6 0a2.3 2.3 0 1 0 -4.6 0zM241.9 269.4a2.3 2.3 0 1 0 4.6 0a2.3 2.3 0 1 0 -4.6 0zM248.3 274.3a2.3 2.3 0 1 0 4.6 0a2.3 2.3 0 1 0 -4.6 0zM243.8 272.8a2.3 2.3 0 1 0 4.6 0a2.3 2.3 0 1 0 -4.6 0zM231.4 272.8a2.3 2.3 0 1 0 4.6 0a2.3 2.3 0 1 0 -4.6 0zM234.7 267.9a2.3 2.3 0 1 0 4.6 0a2.3 2.3 0 1 0 -4.6 0zM239.0 272.0a2.3 2.3 0 1 0 4.6 0a2.3 2.3 0 1 0 -4.6 0zM233.4 272.6a2.3 2.3 0 1 0 4.6 0a2.3 2.3 0 1 0 -4.6 0zM230.9 268.3a2.3 2.3 0 1 0 4.6 0a2.3 2.3 0 1 0 -4.6 0zM235.8 272.6a2.3 2.3 0 1 0 4.6 0a2.3 2.3 0 1 0 -4.6 0zM235.2 269.5a2.3 2.3 0 1 0 4.6 0a2.3 2.3 0 1 0 -4.6 0zM248.7 272.3a2.3 2.3 0 1 0 4.6 0a2.3 2.3 0 1 0 -4.6 0zM230.2 274.3a2.3 2.3 0 1 0 4.6 0a2.3 2.3 0 1 0 -4.6 0zM230.7 270.1a2.3 2.3 0 1 0 4.6 0a2.3 2.3 0 1 0 -4.6 0zM245.2 274.5a2.3 2.3 0 1 0 4.6 0a2.3 2.3 0 1 0 -4.6 0zM236.9 274.0a2.3 2.3 0 1 0 4.6 0a2.3 2.3 0 1 0 -4.6 0zM244.9 268.1a2.3 2.3 0 1 0 4.6 0a2.3 2.3 0 1 0 -4.6 0zM241.6 274.5a2.3 2.3 0 1 0 4.6 0a2.3 2.3 0 1 0 -4.6 0zM250.9 272.7a2.3 2.3 0 1 0 4.6 0a2.3 2.3 0 1 0 -4.6 0zM234.9 271.2a2.3 2.3 0 1 0 4.6 0a2.3 2.3 0 1 0 -4.6 0zM241.0 270.8a2.3 2.3 0 1 0 4.6 0a2.3 2.3 0 1 0 -4.6 0zM232.7 274.5a2.3 2.3 0 1 0 4.6 0a2.3 2.3 0 1 0 -4.6 0zM242.3 267.8a2.3 2.3 0 1 0 4.6 0a2.3 2.3 0 1 0 -4.6 0zM239.4 274.0a2.3 2.3 0 1 0 4.6 0a2.3 2.3 0 1 0 -4.6 0zM246.3 272.9a2.3 2.3 0 1 0 4.6 0a2.3 2.3 0 1 0 -4.6 0zM249.9 274.5a2.3 2.3 0 1 0 4.6 0a2.3 2.3 0 1 0 -4.6 0zM243.8 269.5a2.3 2.3 0 1 0 4.6 0a2.3 2.3 0 1 0 -4.6 0zM234.6 273.9a2.3 2.3 0 1 0 4.6 0a2.3 2.3 0 1 0 -4.6 0zM246.9 268.6a2.3 2.3 0 1 0 4.6 0a2.3 2.3 0 1 0 -4.6 0zM237.5 271.0a2.3 2.3 0 1 0 4.6 0a2.3 2.3 0 1 0 -4.6 0zM243.2 274.4a2.3 2.3 0 1 0 4.6 0a2.3 2.3 0 1 0 -4.6 0zM248.7 270.6a2.3 2.3 0 1 0 4.6 0a2.3 2.3 0 1 0 -4.6 0zM240.5 267.9a2.3 2.3 0 1 0 4.6 0a2.3 2.3 0 1 0 -4.6 0zM237.0 267.8a2.3 2.3 0 1 0 4.6 0a2.3 2.3 0 1 0 -4.6 0zM230.0 271.9a2.3 2.3 0 1 0 4.6 0a2.3 2.3 0 1 0 -4.6 0zM245.7 281.6a2.3 2.3 0 1 0 4.6 0a2.3 2.3 0 1 0 -4.6 0zM240.7 277.5a2.3 2.3 0 1 0 4.6 0a2.3 2.3 0 1 0 -4.6 0zM248.8 279.1a2.3 2.3 0 1 0 4.6 0a2.3 2.3 0 1 0 -4.6 0zM236.8 279.2a2.3 2.3 0 1 0 4.6 0a2.3 2.3 0 1 0 -4.6 0zM239.3 275.8a2.3 2.3 0 1 0 4.6 0a2.3 2.3 0 1 0 -4.6 0zM244.1 278.5a2.3 2.3 0 1 0 4.6 0a2.3 2.3 0 1 0 -4.6 0zM248.8 278.8a2.3 2.3 0 1 0 4.6 0a2.3 2.3 0 1 0 -4.6 0zM238.2 278.1a2.3 2.3 0 1 0 4.6 0a2.3 2.3 0 1 0 -4.6 0zM235.3 277.0a2.3 2.3 0 1 0 4.6 0a2.3 2.3 0 1 0 -4.6 0zM238.7 279.0a2.3 2.3 0 1 0 4.6 0a2.3 2.3 0 1 0 -4.6 0zM232.4 280.9a2.3 2.3 0 1 0 4.6 0a2.3 2.3 0 1 0 -4.6 0zM243.6 281.2a2.3 2.3 0 1 0 4.6 0a2.3 2.3 0 1 0 -4.6 0zM231.1 277.2a2.3 2.3 0 1 0 4.6 0a2.3 2.3 0 1 0 -4.6 0zM239.1 276.1a2.3 2.3 0 1 0 4.6 0a2.3 2.3 0 1 0 -4.6 0zM249.1 276.1a2.3 2.3 0 1 0 4.6 0a2.3 2.3 0 1 0 -4.6 0zM237.3 276.0a2.3 2.3 0 1 0 4.6 0a2.3 2.3 0 1 0 -4.6 0zM275.3 273.9a2.3 2.3 0 1 0 4.6 0a2.3 2.3 0 1 0 -4.6 0zM262.8 273.2a2.3 2.3 0 1 0 4.6 0a2.3 2.3 0 1 0 -4.6 0zM276.8 271.6a2.3 2.3 0 1 0 4.6 0a2.3 2.3 0 1 0 -4.6 0zM268.5 268.8a2.3 2.3 0 1 0 4.6 0a2.3 2.3 0 1 0 -4.6 0zM258.2 270.8a2.3 2.3 0 1 0 4.6 0a2.3 2.3 0 1 0 -4.6 0zM274.3 270.0a2.3 2.3 0 1 0 4.6 0a2.3 2.3 0 1 0 -4.6 0zM271.1 271.7a2.3 2.3 0 1 0 4.6 0a2.3 2.3 0 1 0 -4.6 0zM264.6 273.6a2.3 2.3 0 1 0 4.6 0a2.3 2.3 0 1 0 -4.6 0zM266.5 269.7a2.3 2.3 0 1 0 4.6 0a2.3 2.3 0 1 0 -4.6 0zM259.0 273.0a2.3 2.3 0 1 0 4.6 0a2.3 2.3 0 1 0 -4.6 0zM267.1 274.4a2.3 2.3 0 1 0 4.6 0a2.3 2.3 0 1 0 -4.6 0zM262.6 270.4a2.3 2.3 0 1 0 4.6 0a2.3 2.3 0 1 0 -4.6 0zM264.9 268.1a2.3 2.3 0 1 0 4.6 0a2.3 2.3 0 1 0 -4.6 0zM263.0 268.5a2.3 2.3 0 1 0 4.6 0a2.3 2.3 0 1 0 -4.6 0zM258.4 267.8a2.3 2.3 0 1 0 4.6 0a2.3 2.3 0 1 0 -4.6 0zM275.2 268.0a2.3 2.3 0 1 0 4.6 0a2.3 2.3 0 1 0 -4.6 0zM268.6 270.5a2.3 2.3 0 1 0 4.6 0a2.3 2.3 0 1 0 -4.6 0zM271.3 269.9a2.3 2.3 0 1 0 4.6 0a2.3 2.3 0 1 0 -4.6 0zM269.6 274.6a2.3 2.3 0 1 0 4.6 0a2.3 2.3 0 1 0 -4.6 0zM260.7 269.5a2.3 2.3 0 1 0 4.6 0a2.3 2.3 0 1 0 -4.6 0zM276.7 268.8a2.3 2.3 0 1 0 4.6 0a2.3 2.3 0 1 0 -4.6 0zM276.9 274.2a2.3 2.3 0 1 0 4.6 0a2.3 2.3 0 1 0 -4.6 0zM278.7 269.9a2.3 2.3 0 1 0 4.6 0a2.3 2.3 0 1 0 -4.6 0zM266.8 271.5a2.3 2.3 0 1 0 4.6 0a2.3 2.3 0 1 0 -4.6 0zM270.1 268.4a2.3 2.3 0 1 0 4.6 0a2.3 2.3 0 1 0 -4.6 0zM264.8 271.3a2.3 2.3 0 1 0 4.6 0a2.3 2.3 0 1 0 -4.6 0zM274.0 273.0a2.3 2.3 0 1 0 4.6 0a2.3 2.3 0 1 0 -4.6 0zM278.7 273.3a2.3 2.3 0 1 0 4.6 0a2.3 2.3 0 1 0 -4.6 0zM273.2 268.5a2.3 2.3 0 1 0 4.6 0a2.3 2.3 0 1 0 -4.6 0zM271.9 274.4a2.3 2.3 0 1 0 4.6 0a2.3 2.3 0 1 0 -4.6 0zM269.3 272.2a2.3 2.3 0 1 0 4.6 0a2.3 2.3 0 1 0 -4.6 0zM260.2 274.2a2.3 2.3 0 1 0 4.6 0a2.3 2.3 0 1 0 -4.6 0zM261.0 271.7a2.3 2.3 0 1 0 4.6 0a2.3 2.3 0 1 0 -4.6 0zM259.0 269.4a2.3 2.3 0 1 0 4.6 0a2.3 2.3 0 1 0 -4.6 0zM258.0 274.3a2.3 2.3 0 1 0 4.6 0a2.3 2.3 0 1 0 -4.6 0zM266.8 268.0a2.3 2.3 0 1 0 4.6 0a2.3 2.3 0 1 0 -4.6 0zM278.7 267.8a2.3 2.3 0 1 0 4.6 0a2.3 2.3 0 1 0 -4.6 0zM260.1 267.8a2.3 2.3 0 1 0 4.6 0a2.3 2.3 0 1 0 -4.6 0zM267.7 272.9a2.3 2.3 0 1 0 4.6 0a2.3 2.3 0 1 0 -4.6 0zM272.8 270.8a2.3 2.3 0 1 0 4.6 0a2.3 2.3 0 1 0 -4.6 0zM264.5 269.7a2.3 2.3 0 1 0 4.6 0a2.3 2.3 0 1 0 -4.6 0zM272.3 272.8a2.3 2.3 0 1 0 4.6 0a2.3 2.3 0 1 0 -4.6 0zM275.0 271.7a2.3 2.3 0 1 0 4.6 0a2.3 2.3 0 1 0 -4.6 0zM273.5 274.6a2.3 2.3 0 1 0 4.6 0a2.3 2.3 0 1 0 -4.6 0zM275.4 276.8a2.3 2.3 0 1 0 4.6 0a2.3 2.3 0 1 0 -4.6 0zM261.8 276.9a2.3 2.3 0 1 0 4.6 0a2.3 2.3 0 1 0 -4.6 0zM273.7 280.1a2.3 2.3 0 1 0 4.6 0a2.3 2.3 0 1 0 -4.6 0zM273.5 277.3a2.3 2.3 0 1 0 4.6 0a2.3 2.3 0 1 0 -4.6 0zM263.4 280.9a2.3 2.3 0 1 0 4.6 0a2.3 2.3 0 1 0 -4.6 0zM257.6 281.7a2.3 2.3 0 1 0 4.6 0a2.3 2.3 0 1 0 -4.6 0zM272.7 281.2a2.3 2.3 0 1 0 4.6 0a2.3 2.3 0 1 0 -4.6 0zM276.6 278.0a2.3 2.3 0 1 0 4.6 0a2.3 2.3 0 1 0 -4.6 0zM278.4 280.6a2.3 2.3 0 1 0 4.6 0a2.3 2.3 0 1 0 -4.6 0zM259.5 280.6a2.3 2.3 0 1 0 4.6 0a2.3 2.3 0 1 0 -4.6 0zM260.6 279.4a2.3 2.3 0 1 0 4.6 0a2.3 2.3 0 1 0 -4.6 0zM269.9 280.1a2.3 2.3 0 1 0 4.6 0a2.3 2.3 0 1 0 -4.6 0zM304.5 269.3a2.3 2.3 0 1 0 4.6 0a2.3 2.3 0 1 0 -4.6 0zM296.9 271.2a2.3 2.3 0 1 0 4.6 0a2.3 2.3 0 1 0 -4.6 0zM292.5 268.6a2.3 2.3 0 1 0 4.6 0a2.3 2.3 0 1 0 -4.6 0zM294.2 271.5a2.3 2.3 0 1 0 4.6 0a2.3 2.3 0 1 0 -4.6 0zM305.0 272.3a2.3 2.3 0 1 0 4.6 0a2.3 2.3 0 1 0 -4.6 0zM295.1 270.0a2.3 2.3 0 1 0 4.6 0a2.3 2.3 0 1 0 -4.6 0zM302.4 271.9a2.3 2.3 0 1 0 4.6 0a2.3 2.3 0 1 0 -4.6 0zM286.9 272.5a2.3 2.3 0 1 0 4.6 0a2.3 2.3 0 1 0 -4.6 0zM293.0 273.9a2.3 2.3 0 1 0 4.6 0a2.3 2.3 0 1 0 -4.6 0zM306.3 269.9a2.3 2.3 0 1 0 4.6 0a2.3 2.3 0 1 0 -4.6 0zM290.0 272.4a2.3 2.3 0 1 0 4.6 0a2.3 2.3 0 1 0 -4.6 0zM285.8 269.2a2.3 2.3 0 1 0 4.6 0a2.3 2.3 0 1 0 -4.6 0zM300.1 269.6a2.3 2.3 0 1 0 4.6 0a2.3 2.3 0 1 0 -4.6 0zM288.9 273.7a2.3 2.3 0 1 0 4.6 0a2.3 2.3 0 1 0 -4.6 0zM295.8 268.4a2.3 2.3 0 1 0 4.6 0a2.3 2.3 0 1 0 -4.6 0zM294.5 273.1a2.3 2.3 0 1 0 4.6 0a2.3 2.3 0 1 0 -4.6 0zM298.5 273.9a2.3 2.3 0 1 0 4.6 0a2.3 2.3 0 1 0 -4.6 0zM302.2 268.8a2.3 2.3 0 1 0 4.6 0a2.3 2.3 0 1 0 -4.6 0zM303.7 270.9a2.3 2.3 0 1 0 4.6 0a2.3 2.3 0 1 0 -4.6 0zM305.7 273.8a2.3 2.3 0 1 0 4.6 0a2.3 2.3 0 1 0 -4.6 0zM289.0 267.9a2.3 2.3 0 1 0 4.6 0a2.3 2.3 0 1 0 -4.6 0zM288.1 271.2a2.3 2.3 0 1 0 4.6 0a2.3 2.3 0 1 0 -4.6 0zM285.4 274.0a2.3 2.3 0 1 0 4.6 0a2.3 2.3 0 1 0 -4.6 0zM301.3 274.1a2.3 2.3 0 1 0 4.6 0a2.3 2.3 0 1 0 -4.6 0zM296.2 273.1a2.3 2.3 0 1 0 4.6 0a2.3 2.3 0 1 0 -4.6 0zM298.8 271.9a2.3 2.3 0 1 0 4.6 0a2.3 2.3 0 1 0 -4.6 0zM290.5 270.0a2.3 2.3 0 1 0 4.6 0a2.3 2.3 0 1 0 -4.6 0zM303.5 273.6a2.3 2.3 0 1 0 4.6 0a2.3 2.3 0 1 0 -4.6 0zM291.2 274.5a2.3 2.3 0 1 0 4.6 0a2.3 2.3 0 1 0 -4.6 0zM292.5 270.9a2.3 2.3 0 1 0 4.6 0a2.3 2.3 0 1 0 -4.6 0zM299.3 267.9a2.3 2.3 0 1 0 4.6 0a2.3 2.3 0 1 0 -4.6 0zM291.6 272.5a2.3 2.3 0 1 0 4.6 0a2.3 2.3 0 1 0 -4.6 0zM285.2 271.9a2.3 2.3 0 1 0 4.6 0a2.3 2.3 0 1 0 -4.6 0zM298.0 269.7a2.3 2.3 0 1 0 4.6 0a2.3 2.3 0 1 0 -4.6 0zM286.5 270.6a2.3 2.3 0 1 0 4.6 0a2.3 2.3 0 1 0 -4.6 0zM294.2 268.1a2.3 2.3 0 1 0 4.6 0a2.3 2.3 0 1 0 -4.6 0zM288.1 269.5a2.3 2.3 0 1 0 4.6 0a2.3 2.3 0 1 0 -4.6 0zM306.3 268.2a2.3 2.3 0 1 0 4.6 0a2.3 2.3 0 1 0 -4.6 0zM300.4 272.4a2.3 2.3 0 1 0 4.6 0a2.3 2.3 0 1 0 -4.6 0zM287.3 274.1a2.3 2.3 0 1 0 4.6 0a2.3 2.3 0 1 0 -4.6 0zM301.6 270.3a2.3 2.3 0 1 0 4.6 0a2.3 2.3 0 1 0 -4.6 0zM303.6 267.9a2.3 2.3 0 1 0 4.6 0a2.3 2.3 0 1 0 -4.6 0zM297.4 268.0a2.3 2.3 0 1 0 4.6 0a2.3 2.3 0 1 0 -4.6 0zM287.1 267.8a2.3 2.3 0 1 0 4.6 0a2.3 2.3 0 1 0 -4.6 0zM290.7 268.2a2.3 2.3 0 1 0 4.6 0a2.3 2.3 0 1 0 -4.6 0zM296.7 276.1a2.3 2.3 0 1 0 4.6 0a2.3 2.3 0 1 0 -4.6 0zM285.2 278.6a2.3 2.3 0 1 0 4.6 0a2.3 2.3 0 1 0 -4.6 0zM292.8 278.4a2.3 2.3 0 1 0 4.6 0a2.3 2.3 0 1 0 -4.6 0zM293.6 280.5a2.3 2.3 0 1 0 4.6 0a2.3 2.3 0 1 0 -4.6 0zM298.6 278.5a2.3 2.3 0 1 0 4.6 0a2.3 2.3 0 1 0 -4.6 0zM296.7 277.4a2.3 2.3 0 1 0 4.6 0a2.3 2.3 0 1 0 -4.6 0zM304.5 276.9a2.3 2.3 0 1 0 4.6 0a2.3 2.3 0 1 0 -4.6 0zM288.1 279.5a2.3 2.3 0 1 0 4.6 0a2.3 2.3 0 1 0 -4.6 0zM290.4 277.5a2.3 2.3 0 1 0 4.6 0a2.3 2.3 0 1 0 -4.6 0zM292.9 277.1a2.3 2.3 0 1 0 4.6 0a2.3 2.3 0 1 0 -4.6 0zM304.7 278.8a2.3 2.3 0 1 0 4.6 0a2.3 2.3 0 1 0 -4.6 0zM304.1 278.9a2.3 2.3 0 1 0 4.6 0a2.3 2.3 0 1 0 -4.6 0zM323.0 272.9a2.3 2.3 0 1 0 4.6 0a2.3 2.3 0 1 0 -4.6 0zM319.3 271.5a2.3 2.3 0 1 0 4.6 0a2.3 2.3 0 1 0 -4.6 0zM331.5 273.2a2.3 2.3 0 1 0 4.6 0a2.3 2.3 0 1 0 -4.6 0zM317.3 273.1a2.3 2.3 0 1 0 4.6 0a2.3 2.3 0 1 0 -4.6 0zM324.6 272.2a2.3 2.3 0 1 0 4.6 0a2.3 2.3 0 1 0 -4.6 0zM316.2 268.1a2.3 2.3 0 1 0 4.6 0a2.3 2.3 0 1 0 -4.6 0zM329.2 270.2a2.3 2.3 0 1 0 4.6 0a2.3 2.3 0 1 0 -4.6 0zM320.7 272.6a2.3 2.3 0 1 0 4.6 0a2.3 2.3 0 1 0 -4.6 0zM329.0 268.0a2.3 2.3 0 1 0 4.6 0a2.3 2.3 0 1 0 -4.6 0zM327.4 271.6a2.3 2.3 0 1 0 4.6 0a2.3 2.3 0 1 0 -4.6 0zM333.5 274.3a2.3 2.3 0 1 0 4.6 0a2.3 2.3 0 1 0 -4.6 0zM314.9 270.8a2.3 2.3 0 1 0 4.6 0a2.3 2.3 0 1 0 -4.6 0zM318.8 268.1a2.3 2.3 0 1 0 4.6 0a2.3 2.3 0 1 0 -4.6 0zM331.0 271.1a2.3 2.3 0 1 0 4.6 0a2.3 2.3 0 1 0 -4.6 0zM322.1 268.1a2.3 2.3 0 1 0 4.6 0a2.3 2.3 0 1 0 -4.6 0zM317.7 270.7a2.3 2.3 0 1 0 4.6 0a2.3 2.3 0 1 0 -4.6 0zM313.0 268.7a2.3 2.3 0 1 0 4.6 0a2.3 2.3 0 1 0 -4.6 0zM325.6 270.6a2.3 2.3 0 1 0 4.6 0a2.3 2.3 0 1 0 -4.6 0zM319.6 274.1a2.3 2.3 0 1 0 4.6 0a2.3 2.3 0 1 0 -4.6 0zM333.8 272.1a2.3 2.3 0 1 0 4.6 0a2.3 2.3 0 1 0 -4.6 0zM326.4 273.8a2.3 2.3 0 1 0 4.6 0a2.3 2.3 0 1 0 -4.6 0zM327.2 268.4a2.3 2.3 0 1 0 4.6 0a2.3 2.3 0 1 0 -4.6 0zM313.8 273.0a2.3 2.3 0 1 0 4.6 0a2.3 2.3 0 1 0 -4.6 0zM323.0 270.9a2.3 2.3 0 1 0 4.6 0a2.3 2.3 0 1 0 -4.6 0zM320.8 270.3a2.3 2.3 0 1 0 4.6 0a2.3 2.3 0 1 0 -4.6 0zM332.5 269.3a2.3 2.3 0 1 0 4.6 0a2.3 2.3 0 1 0 -4.6 0zM324.0 268.7a2.3 2.3 0 1 0 4.6 0a2.3 2.3 0 1 0 -4.6 0zM316.2 274.3a2.3 2.3 0 1 0 4.6 0a2.3 2.3 0 1 0 -4.6 0zM333.9 268.1a2.3 2.3 0 1 0 4.6 0a2.3 2.3 0 1 0 -4.6 0zM321.8 274.3a2.3 2.3 0 1 0 4.6 0a2.3 2.3 0 1 0 -4.6 0zM329.4 274.0a2.3 2.3 0 1 0 4.6 0a2.3 2.3 0 1 0 -4.6 0zM323.7 274.4a2.3 2.3 0 1 0 4.6 0a2.3 2.3 0 1 0 -4.6 0zM313.2 270.6a2.3 2.3 0 1 0 4.6 0a2.3 2.3 0 1 0 -4.6 0zM329.5 272.2a2.3 2.3 0 1 0 4.6 0a2.3 2.3 0 1 0 -4.6 0zM314.6 274.5a2.3 2.3 0 1 0 4.6 0a2.3 2.3 0 1 0 -4.6 0zM330.6 268.3a2.3 2.3 0 1 0 4.6 0a2.3 2.3 0 1 0 -4.6 0zM315.9 272.2a2.3 2.3 0 1 0 4.6 0a2.3 2.3 0 1 0 -4.6 0zM327.9 274.6a2.3 2.3 0 1 0 4.6 0a2.3 2.3 0 1 0 -4.6 0zM319.2 269.7a2.3 2.3 0 1 0 4.6 0a2.3 2.3 0 1 0 -4.6 0zM314.6 269.0a2.3 2.3 0 1 0 4.6 0a2.3 2.3 0 1 0 -4.6 0zM320.5 268.0a2.3 2.3 0 1 0 4.6 0a2.3 2.3 0 1 0 -4.6 0zM325.4 267.9a2.3 2.3 0 1 0 4.6 0a2.3 2.3 0 1 0 -4.6 0zM333.7 270.4a2.3 2.3 0 1 0 4.6 0a2.3 2.3 0 1 0 -4.6 0zM332.0 280.2a2.3 2.3 0 1 0 4.6 0a2.3 2.3 0 1 0 -4.6 0zM319.8 281.2a2.3 2.3 0 1 0 4.6 0a2.3 2.3 0 1 0 -4.6 0zM318.1 281.1a2.3 2.3 0 1 0 4.6 0a2.3 2.3 0 1 0 -4.6 0zM323.6 280.9a2.3 2.3 0 1 0 4.6 0a2.3 2.3 0 1 0 -4.6 0zM316.0 278.3a2.3 2.3 0 1 0 4.6 0a2.3 2.3 0 1 0 -4.6 0zM322.9 281.1a2.3 2.3 0 1 0 4.6 0a2.3 2.3 0 1 0 -4.6 0zM327.1 281.7a2.3 2.3 0 1 0 4.6 0a2.3 2.3 0 1 0 -4.6 0zM332.1 278.9a2.3 2.3 0 1 0 4.6 0a2.3 2.3 0 1 0 -4.6 0zM325.0 278.2a2.3 2.3 0 1 0 4.6 0a2.3 2.3 0 1 0 -4.6 0zM316.9 277.1a2.3 2.3 0 1 0 4.6 0a2.3 2.3 0 1 0 -4.6 0zM323.3 281.7a2.3 2.3 0 1 0 4.6 0a2.3 2.3 0 1 0 -4.6 0zM317.0 280.8a2.3 2.3 0 1 0 4.6 0a2.3 2.3 0 1 0 -4.6 0zM136.7 260.5a2.3 2.3 0 1 0 4.6 0a2.3 2.3 0 1 0 -4.6 0z"/>

<path fill="#03A088" d="M45.6 19.6l2.85 5.00h-5.7zM57.0 20.5l2.85 5.00h-5.7zM41.3 23.4l2.85 5.00h-5.7zM39.5 25.3l2.85 5.00h-5.7zM43.7 23.8l2.85 5.00h-5.7zM48.9 22.9l2.85 5.00h-5.7zM50.3 24.8l2.85 5.00h-5.7zM55.0 25.7l2.85 5.00h-5.7zM45.7 43.9l2.85 5.00h-5.7zM52.8 37.3l2.85 5.00h-5.7zM50.3 62.3l2.85 5.00h-5.7zM39.9 74.4l2.85 5.00h-5.7zM39.4 68.1l2.85 5.00h-5.7zM40.1 38.8l2.85 5.00h-5.7zM47.9 101.7l2.85 5.00h-5.7zM41.3 50.1l2.85 5.00h-5.7zM51.2 64.9l2.85 5.00h-5.7zM59.9 35.0l2.85 5.00h-5.7zM57.3 55.8l2.85 5.00h-5.7zM41.7 41.1l2.85 5.00h-5.7zM45.3 100.8l2.85 5.00h-5.7zM42.5 80.7l2.85 5.00h-5.7zM53.4 67.6l2.85 5.00h-5.7zM45.4 81.1l2.85 5.00h-5.7zM48.5 56.7l2.85 5.00h-5.7zM55.9 90.8l2.85 5.00h-5.7zM54.5 55.7l2.85 5.00h-5.7zM60.0 41.1l2.85 5.00h-5.7zM47.7 95.7l2.85 5.00h-5.7zM41.9 72.8l2.85 5.00h-5.7zM39.5 88.1l2.85 5.00h-5.7zM55.3 80.0l2.85 5.00h-5.7zM51.2 70.0l2.85 5.00h-5.7zM48.9 87.8l2.85 5.00h-5.7zM39.9 91.0l2.85 5.00h-5.7zM39.1 70.5l2.85 5.00h-5.7zM39.9 96.7l2.85 5.00h-5.7zM47.1 105.5l2.85 5.00h-5.7zM44.7 66.5l2.85 5.00h-5.7zM59.5 44.0l2.85 5.00h-5.7zM51.4 53.5l2.85 5.00h-5.7zM59.4 90.0l2.85 5.00h-5.7zM49.8 83.8l2.85 5.00h-5.7zM58.2 97.7l2.85 5.00h-5.7zM47.2 65.1l2.85 5.00h-5.7zM40.9 85.2l2.85 5.00h-5.7zM43.2 44.9l2.85 5.00h-5.7zM38.6 44.0l2.85 5.00h-5.7zM40.8 62.1l2.85 5.00h-5.7zM52.0 43.8l2.85 5.00h-5.7zM44.1 60.7l2.85 5.00h-5.7zM46.5 41.6l2.85 5.00h-5.7zM48.8 72.4l2.85 5.00h-5.7zM46.1 53.7l2.85 5.00h-5.7zM56.7 44.9l2.85 5.00h-5.7zM50.4 33.4l2.85 5.00h-5.7zM50.2 97.6l2.85 5.00h-5.7zM45.8 50.1l2.85 5.00h-5.7zM57.2 99.9l2.85 5.00h-5.7zM56.4 94.3l2.85 5.00h-5.7zM43.5 75.3l2.85 5.00h-5.7zM39.2 54.9l2.85 5.00h-5.7zM44.3 90.2l2.85 5.00h-5.7zM59.5 69.3l2.85 5.00h-5.7zM59.4 62.2l2.85 5.00h-5.7zM56.9 72.0l2.85 5.00h-5.7zM52.8 99.4l2.85 5.00h-5.7zM42.5 98.5l2.85 5.00h-5.7zM59.8 64.9l2.85 5.00h-5.7zM41.8 101.7l2.85 5.00h-5.7zM60.0 87.2l2.85 5.00h-5.7zM46.2 77.9l2.85 5.00h-5.7zM56.6 49.1l2.85 5.00h-5.7zM44.1 56.1l2.85 5.00h-5.7zM41.5 108.8l2.85 5.00h-5.7zM46.3 70.2l2.85 5.00h-5.7zM47.8 109.4l2.85 5.00h-5.7zM49.5 76.5l2.85 5.00h-5.7zM48.2 46.7l2.85 5.00h-5.7zM38.7 99.3l2.85 5.00h-5.7zM40.9 78.9l2.85 5.00h-5.7zM55.4 74.4l2.85 5.00h-5.7zM52.0 74.2l2.85 5.00h-5.7zM49.8 90.2l2.85 5.00h-5.7zM53.8 105.9l2.85 5.00h-5.7zM59.1 53.2l2.85 5.00h-5.7zM55.7 107.7l2.85 5.00h-5.7zM60.2 102.2l2.85 5.00h-5.7zM42.1 67.9l2.85 5.00h-5.7zM42.9 58.3l2.85 5.00h-5.7zM54.3 32.7l2.85 5.00h-5.7zM39.0 59.4l2.85 5.00h-5.7zM40.0 115.2l2.85 5.00h-5.7zM56.5 53.2l2.85 5.00h-5.7zM40.6 36.0l2.85 5.00h-5.7zM48.5 60.0l2.85 5.00h-5.7zM50.1 51.4l2.85 5.00h-5.7zM39.7 48.3l2.85 5.00h-5.7zM56.5 68.0l2.85 5.00h-5.7zM47.2 74.3l2.85 5.00h-5.7zM54.0 85.4l2.85 5.00h-5.7zM57.6 88.3l2.85 5.00h-5.7zM59.8 77.8l2.85 5.00h-5.7zM38.6 63.7l2.85 5.00h-5.7zM40.6 65.2l2.85 5.00h-5.7zM58.0 84.6l2.85 5.00h-5.7zM53.5 90.3l2.85 5.00h-5.7zM41.8 52.8l2.85 5.00h-5.7zM56.9 41.3l2.85 5.00h-5.7zM60.4 81.4l2.85 5.00h-5.7zM54.3 35.3l2.85 5.00h-5.7zM45.1 94.2l2.85 5.00h-5.7zM42.8 38.8l2.85 5.00h-5.7zM46.1 38.8l2.85 5.00h-5.7zM57.6 32.9l2.85 5.00h-5.7zM51.4 31.1l2.85 5.00h-5.7zM59.1 92.7l2.85 5.00h-5.7zM52.7 96.4l2.85 5.00h-5.7zM50.0 80.8l2.85 5.00h-5.7zM53.5 48.0l2.85 5.00h-5.7zM59.7 57.7l2.85 5.00h-5.7zM43.4 96.0l2.85 5.00h-5.7zM53.1 63.4l2.85 5.00h-5.7zM59.6 48.8l2.85 5.00h-5.7zM51.8 59.1l2.85 5.00h-5.7zM55.7 37.8l2.85 5.00h-5.7zM53.1 41.4l2.85 5.00h-5.7zM41.8 55.3l2.85 5.00h-5.7zM49.1 35.6l2.85 5.00h-5.7zM51.7 78.0l2.85 5.00h-5.7zM48.3 68.5l2.85 5.00h-5.7zM55.2 97.7l2.85 5.00h-5.7zM48.9 40.2l2.85 5.00h-5.7zM51.4 87.7l2.85 5.00h-5.7zM54.8 70.8l2.85 5.00h-5.7zM53.8 103.3l2.85 5.00h-5.7zM44.4 85.9l2.85 5.00h-5.7zM54.9 59.0l2.85 5.00h-5.7zM57.8 59.1l2.85 5.00h-5.7zM48.1 92.9l2.85 5.00h-5.7zM53.8 94.0l2.85 5.00h-5.7zM40.0 81.5l2.85 5.00h-5.7zM46.6 58.5l2.85 5.00h-5.7zM59.6 74.1l2.85 5.00h-5.7zM58.0 38.4l2.85 5.00h-5.7zM43.7 70.4l2.85 5.00h-5.7zM45.8 47.2l2.85 5.00h-5.7zM47.3 98.6l2.85 5.00h-5.7zM55.6 64.3l2.85 5.00h-5.7zM56.8 61.4l2.85 5.00h-5.7zM47.9 85.5l2.85 5.00h-5.7zM50.2 94.4l2.85 5.00h-5.7zM48.8 43.4l2.85 5.00h-5.7zM53.8 82.0l2.85 5.00h-5.7zM60.0 71.7l2.85 5.00h-5.7zM54.3 51.8l2.85 5.00h-5.7zM42.2 104.6l2.85 5.00h-5.7zM51.0 56.0l2.85 5.00h-5.7zM46.8 89.6l2.85 5.00h-5.7zM42.7 47.5l2.85 5.00h-5.7zM58.3 108.3l2.85 5.00h-5.7zM50.2 100.7l2.85 5.00h-5.7zM40.8 45.6l2.85 5.00h-5.7zM45.2 63.6l2.85 5.00h-5.7zM42.3 88.0l2.85 5.00h-5.7zM60.2 95.2l2.85 5.00h-5.7zM57.6 79.1l2.85 5.00h-5.7zM50.7 46.6l2.85 5.00h-5.7zM41.0 93.7l2.85 5.00h-5.7zM38.8 108.9l2.85 5.00h-5.7zM60.4 31.5l2.85 5.00h-5.7zM44.2 83.2l2.85 5.00h-5.7zM44.6 103.2l2.85 5.00h-5.7zM56.2 76.9l2.85 5.00h-5.7zM60.3 99.7l2.85 5.00h-5.7zM59.7 105.4l2.85 5.00h-5.7zM58.2 50.9l2.85 5.00h-5.7zM56.5 82.4l2.85 5.00h-5.7zM38.9 76.7l2.85 5.00h-5.7zM38.7 50.7l2.85 5.00h-5.7zM47.0 83.1l2.85 5.00h-5.7zM53.6 76.6l2.85 5.00h-5.7zM43.9 78.7l2.85 5.00h-5.7zM51.0 49.2l2.85 5.00h-5.7zM54.7 109.9l2.85 5.00h-5.7zM48.9 31.1l2.85 5.00h-5.7zM47.9 62.8l2.85 5.00h-5.7zM39.3 41.7l2.85 5.00h-5.7zM54.9 100.8l2.85 5.00h-5.7zM45.2 72.7l2.85 5.00h-5.7zM53.9 45.3l2.85 5.00h-5.7zM47.7 80.0l2.85 5.00h-5.7zM48.6 53.4l2.85 5.00h-5.7zM51.2 103.0l2.85 5.00h-5.7zM42.7 64.1l2.85 5.00h-5.7zM57.5 35.9l2.85 5.00h-5.7zM43.7 36.3l2.85 5.00h-5.7zM40.0 57.2l2.85 5.00h-5.7zM48.1 49.2l2.85 5.00h-5.7zM50.3 37.9l2.85 5.00h-5.7zM53.8 87.8l2.85 5.00h-5.7zM51.5 91.9l2.85 5.00h-5.7zM57.7 102.6l2.85 5.00h-5.7zM50.5 67.4l2.85 5.00h-5.7zM41.3 76.5l2.85 5.00h-5.7zM58.5 46.6l2.85 5.00h-5.7zM47.0 118.6l2.85 5.00h-5.7zM47.4 121.4l2.85 5.00h-5.7zM53.1 123.0l2.85 5.00h-5.7zM47.1 123.1l2.85 5.00h-5.7zM53.0 123.8l2.85 5.00h-5.7zM38.7 138.9l2.85 5.00h-5.7zM85.9 37.0l2.85 5.00h-5.7zM84.2 60.8l2.85 5.00h-5.7zM76.1 64.4l2.85 5.00h-5.7zM74.2 66.3l2.85 5.00h-5.7zM78.0 70.1l2.85 5.00h-5.7zM84.6 72.0l2.85 5.00h-5.7zM67.6 73.0l2.85 5.00h-5.7zM70.4 81.1l2.85 5.00h-5.7zM78.9 82.5l2.85 5.00h-5.7zM70.2 81.3l2.85 5.00h-5.7zM79.2 83.2l2.85 5.00h-5.7zM66.8 87.6l2.85 5.00h-5.7zM72.5 88.2l2.85 5.00h-5.7zM82.0 89.5l2.85 5.00h-5.7zM69.8 160.5l2.85 5.00h-5.7zM80.5 119.6l2.85 5.00h-5.7zM72.3 93.7l2.85 5.00h-5.7zM69.1 122.3l2.85 5.00h-5.7zM75.1 136.3l2.85 5.00h-5.7zM66.3 156.7l2.85 5.00h-5.7zM77.0 173.5l2.85 5.00h-5.7zM85.5 102.1l2.85 5.00h-5.7zM85.6 114.0l2.85 5.00h-5.7zM69.4 149.5l2.85 5.00h-5.7zM78.7 145.8l2.85 5.00h-5.7zM78.1 133.6l2.85 5.00h-5.7zM79.1 124.1l2.85 5.00h-5.7zM82.2 93.4l2.85 5.00h-5.7zM77.2 141.9l2.85 5.00h-5.7zM85.3 143.1l2.85 5.00h-5.7zM68.9 146.0l2.85 5.00h-5.7zM73.5 141.8l2.85 5.00h-5.7zM87.0 107.6l2.85 5.00h-5.7zM73.0 152.7l2.85 5.00h-5.7zM75.5 124.4l2.85 5.00h-5.7zM82.1 101.0l2.85 5.00h-5.7zM87.4 139.2l2.85 5.00h-5.7zM71.7 143.6l2.85 5.00h-5.7zM73.8 111.2l2.85 5.00h-5.7zM77.0 112.8l2.85 5.00h-5.7zM82.2 115.1l2.85 5.00h-5.7zM81.5 152.9l2.85 5.00h-5.7zM80.3 105.9l2.85 5.00h-5.7zM81.9 97.8l2.85 5.00h-5.7zM68.4 112.0l2.85 5.00h-5.7zM69.7 137.6l2.85 5.00h-5.7zM87.0 160.1l2.85 5.00h-5.7zM76.7 104.8l2.85 5.00h-5.7zM72.4 134.1l2.85 5.00h-5.7zM87.7 100.2l2.85 5.00h-5.7zM77.1 153.8l2.85 5.00h-5.7zM72.6 138.2l2.85 5.00h-5.7zM70.8 101.6l2.85 5.00h-5.7zM72.2 159.1l2.85 5.00h-5.7zM76.8 118.1l2.85 5.00h-5.7zM85.9 133.5l2.85 5.00h-5.7zM87.8 131.0l2.85 5.00h-5.7zM68.5 96.4l2.85 5.00h-5.7zM81.9 174.3l2.85 5.00h-5.7zM73.1 122.3l2.85 5.00h-5.7zM67.9 119.4l2.85 5.00h-5.7zM82.0 137.7l2.85 5.00h-5.7zM75.2 102.6l2.85 5.00h-5.7zM73.2 155.8l2.85 5.00h-5.7zM69.7 105.6l2.85 5.00h-5.7zM68.2 127.3l2.85 5.00h-5.7zM81.8 141.0l2.85 5.00h-5.7zM86.9 152.0l2.85 5.00h-5.7zM68.7 133.2l2.85 5.00h-5.7zM85.6 97.8l2.85 5.00h-5.7zM66.2 174.8l2.85 5.00h-5.7zM83.2 127.1l2.85 5.00h-5.7zM84.6 108.5l2.85 5.00h-5.7zM67.7 139.9l2.85 5.00h-5.7zM66.4 151.1l2.85 5.00h-5.7zM82.6 111.8l2.85 5.00h-5.7zM79.1 114.9l2.85 5.00h-5.7zM74.8 145.7l2.85 5.00h-5.7zM73.0 130.8l2.85 5.00h-5.7zM84.0 120.5l2.85 5.00h-5.7zM70.3 114.8l2.85 5.00h-5.7zM85.9 145.5l2.85 5.00h-5.7zM66.8 123.6l2.85 5.00h-5.7zM85.6 157.0l2.85 5.00h-5.7zM69.9 163.4l2.85 5.00h-5.7zM87.3 110.6l2.85 5.00h-5.7zM69.5 168.4l2.85 5.00h-5.7zM73.7 161.4l2.85 5.00h-5.7zM66.5 148.4l2.85 5.00h-5.7zM76.8 121.4l2.85 5.00h-5.7zM78.6 95.8l2.85 5.00h-5.7zM79.7 101.8l2.85 5.00h-5.7zM80.7 129.9l2.85 5.00h-5.7zM86.6 122.5l2.85 5.00h-5.7zM72.7 98.2l2.85 5.00h-5.7zM71.7 125.4l2.85 5.00h-5.7zM66.6 143.6l2.85 5.00h-5.7zM73.4 117.3l2.85 5.00h-5.7zM78.7 136.8l2.85 5.00h-5.7zM86.1 105.2l2.85 5.00h-5.7zM80.4 157.4l2.85 5.00h-5.7zM72.9 90.6l2.85 5.00h-5.7zM87.6 118.1l2.85 5.00h-5.7zM87.7 154.8l2.85 5.00h-5.7zM66.6 130.0l2.85 5.00h-5.7zM66.2 160.3l2.85 5.00h-5.7zM66.5 104.7l2.85 5.00h-5.7zM87.0 148.0l2.85 5.00h-5.7zM76.5 148.3l2.85 5.00h-5.7zM66.8 100.6l2.85 5.00h-5.7zM84.5 150.2l2.85 5.00h-5.7zM79.4 111.3l2.85 5.00h-5.7zM77.3 128.6l2.85 5.00h-5.7zM87.0 127.7l2.85 5.00h-5.7zM67.6 154.6l2.85 5.00h-5.7zM66.2 97.5l2.85 5.00h-5.7zM87.1 172.2l2.85 5.00h-5.7zM73.0 150.0l2.85 5.00h-5.7zM72.1 106.0l2.85 5.00h-5.7zM83.0 161.7l2.85 5.00h-5.7zM70.0 118.0l2.85 5.00h-5.7zM82.5 122.7l2.85 5.00h-5.7zM81.8 90.3l2.85 5.00h-5.7zM75.3 99.2l2.85 5.00h-5.7zM77.9 99.4l2.85 5.00h-5.7zM70.4 140.4l2.85 5.00h-5.7zM66.3 115.3l2.85 5.00h-5.7zM87.1 164.6l2.85 5.00h-5.7zM73.2 114.8l2.85 5.00h-5.7zM84.4 91.5l2.85 5.00h-5.7zM77.7 109.4l2.85 5.00h-5.7zM71.7 112.5l2.85 5.00h-5.7zM84.5 131.1l2.85 5.00h-5.7zM77.6 139.3l2.85 5.00h-5.7zM67.0 163.6l2.85 5.00h-5.7zM67.9 107.7l2.85 5.00h-5.7zM87.2 135.7l2.85 5.00h-5.7zM75.0 108.5l2.85 5.00h-5.7zM70.6 129.9l2.85 5.00h-5.7zM68.4 89.9l2.85 5.00h-5.7zM85.6 116.5l2.85 5.00h-5.7zM79.3 175.0l2.85 5.00h-5.7zM74.4 127.6l2.85 5.00h-5.7zM74.8 119.7l2.85 5.00h-5.7zM87.7 142.4l2.85 5.00h-5.7zM75.8 115.9l2.85 5.00h-5.7zM82.9 104.5l2.85 5.00h-5.7zM69.0 142.8l2.85 5.00h-5.7zM66.6 136.7l2.85 5.00h-5.7zM71.7 147.9l2.85 5.00h-5.7zM70.8 108.9l2.85 5.00h-5.7zM82.8 144.1l2.85 5.00h-5.7zM82.0 134.0l2.85 5.00h-5.7zM75.2 133.0l2.85 5.00h-5.7zM79.3 148.3l2.85 5.00h-5.7zM79.9 127.4l2.85 5.00h-5.7zM76.5 151.3l2.85 5.00h-5.7zM84.3 135.6l2.85 5.00h-5.7zM81.0 108.5l2.85 5.00h-5.7zM69.3 99.0l2.85 5.00h-5.7zM84.9 138.9l2.85 5.00h-5.7zM68.4 102.7l2.85 5.00h-5.7zM85.7 124.9l2.85 5.00h-5.7zM71.0 95.9l2.85 5.00h-5.7zM83.2 117.9l2.85 5.00h-5.7zM66.2 133.9l2.85 5.00h-5.7zM80.4 143.0l2.85 5.00h-5.7zM66.6 109.9l2.85 5.00h-5.7zM78.3 131.1l2.85 5.00h-5.7zM79.3 117.5l2.85 5.00h-5.7zM79.7 93.3l2.85 5.00h-5.7zM76.1 156.1l2.85 5.00h-5.7zM71.0 120.6l2.85 5.00h-5.7zM84.4 147.7l2.85 5.00h-5.7zM77.2 126.2l2.85 5.00h-5.7zM73.3 100.9l2.85 5.00h-5.7zM75.1 138.8l2.85 5.00h-5.7zM74.7 93.0l2.85 5.00h-5.7zM81.4 125.2l2.85 5.00h-5.7zM79.0 155.4l2.85 5.00h-5.7zM74.6 163.9l2.85 5.00h-5.7zM84.9 111.1l2.85 5.00h-5.7zM87.8 103.1l2.85 5.00h-5.7zM68.0 175.7l2.85 5.00h-5.7zM70.6 181.8l2.85 5.00h-5.7zM71.5 183.5l2.85 5.00h-5.7zM75.0 187.9l2.85 5.00h-5.7zM68.0 191.4l2.85 5.00h-5.7zM68.9 194.0l2.85 5.00h-5.7zM77.6 177.5l2.85 5.00h-5.7zM81.0 177.5l2.85 5.00h-5.7zM81.9 194.8l2.85 5.00h-5.7zM86.3 183.5l2.85 5.00h-5.7zM86.3 187.0l2.85 5.00h-5.7zM86.3 190.5l2.85 5.00h-5.7zM87.1 193.1l2.85 5.00h-5.7zM70.6 180.9l2.85 5.00h-5.7zM86.4 183.5l2.85 5.00h-5.7zM82.0 176.5l2.85 5.00h-5.7zM105.4 175.2l2.85 5.00h-5.7zM114.2 175.2l2.85 5.00h-5.7zM129.0 187.0l2.85 5.00h-5.7zM100.2 194.1l2.85 5.00h-5.7zM110.5 192.2l2.85 5.00h-5.7zM109.2 194.7l2.85 5.00h-5.7zM106.9 197.3l2.85 5.00h-5.7zM102.3 203.3l2.85 5.00h-5.7zM112.4 202.1l2.85 5.00h-5.7zM121.2 205.5l2.85 5.00h-5.7zM95.1 211.2l2.85 5.00h-5.7zM98.6 211.9l2.85 5.00h-5.7zM102.2 210.0l2.85 5.00h-5.7zM111.2 210.0l2.85 5.00h-5.7zM137.6 210.7l2.85 5.00h-5.7zM96.3 213.5l2.85 5.00h-5.7zM112.3 216.4l2.85 5.00h-5.7zM135.2 216.4l2.85 5.00h-5.7zM98.6 218.3l2.85 5.00h-5.7zM124.6 218.3l2.85 5.00h-5.7zM126.5 219.0l2.85 5.00h-5.7zM101.0 221.4l2.85 5.00h-5.7zM112.8 220.7l2.85 5.00h-5.7zM123.4 223.0l2.85 5.00h-5.7zM103.4 222.3l2.85 5.00h-5.7zM95.1 228.5l2.85 5.00h-5.7zM103.4 228.5l2.85 5.00h-5.7zM108.0 227.0l2.85 5.00h-5.7zM110.4 228.5l2.85 5.00h-5.7zM105.7 229.4l2.85 5.00h-5.7zM122.3 227.0l2.85 5.00h-5.7zM132.9 226.5l2.85 5.00h-5.7zM142.3 226.1l2.85 5.00h-5.7zM123.4 224.9l2.85 5.00h-5.7zM152.6 210.0l2.85 5.00h-5.7zM163.4 211.9l2.85 5.00h-5.7zM170.3 211.4l2.85 5.00h-5.7zM169.8 219.9l2.85 5.00h-5.7zM159.2 229.4l2.85 5.00h-5.7zM188.2 219.9l2.85 5.00h-5.7zM189.9 219.0l2.85 5.00h-5.7zM196.3 213.6l2.85 5.00h-5.7zM204.5 211.2l2.85 5.00h-5.7zM205.9 210.5l2.85 5.00h-5.7zM207.6 219.0l2.85 5.00h-5.7zM218.9 229.6l2.85 5.00h-5.7zM233.1 215.5l2.85 5.00h-5.7zM242.5 201.0l2.85 5.00h-5.7zM249.6 228.0l2.85 5.00h-5.7zM268.7 201.0l2.85 5.00h-5.7zM265.2 210.0l2.85 5.00h-5.7zM271.1 211.2l2.85 5.00h-5.7zM268.7 217.6l2.85 5.00h-5.7zM272.2 219.0l2.85 5.00h-5.7zM275.8 225.4l2.85 5.00h-5.7zM275.8 229.4l2.85 5.00h-5.7zM269.2 229.4l2.85 5.00h-5.7zM291.6 204.8l2.85 5.00h-5.7zM291.6 218.8l2.85 5.00h-5.7zM296.3 218.8l2.85 5.00h-5.7zM292.8 224.2l2.85 5.00h-5.7zM305.3 211.2l2.85 5.00h-5.7zM307.0 227.7l2.85 5.00h-5.7zM316.1 227.0l2.85 5.00h-5.7zM322.0 230.1l2.85 5.00h-5.7zM327.9 215.9l2.85 5.00h-5.7zM332.4 211.2l2.85 5.00h-5.7z"/>

<!-- table -->
<g>
<rect x="111.5" y="41.4" width="243.5" height="10.1" fill="#70AD47"/>
<path d="M111.5 51H355" stroke="#64A23D" stroke-width="0.9"/>
<rect x="111.5" y="51.5" width="243.5" height="9.6" fill="#E2EFDA"/>
<rect x="111.5" y="70.8" width="243.5" height="9.7" fill="#E2EFDA"/>
<rect x="111.5" y="90.2" width="243.5" height="9.7" fill="#E2EFDA"/>
<rect x="111.5" y="109.6" width="243.5" height="9.7" fill="#E2EFDA"/>
<rect x="111.5" y="129.0" width="243.5" height="9.7" fill="#E2EFDA"/>
<rect x="111.5" y="148.4" width="243.5" height="9.7" fill="#E2EFDA"/>
<g stroke="#CFE5C1" stroke-width="0.7" fill="none">
<path d="M111.6 51.4V158.1M192.3 51.4V158.1M273.4 51.4V158.1M354.6 51.4V158.1"/>
<path d="M111.5 61.1H355M111.5 70.8H355M111.5 80.5H355M111.5 90.2H355M111.5 99.9H355M111.5 109.6H355M111.5 119.3H355M111.5 129H355M111.5 138.7H355M111.5 148.4H355M111.5 157.8H355"/>
</g>
<g class="tb" text-anchor="middle" transform="scale(0.94,1)">
<text x="165.21" y="48.6">Bellicosity</text><text x="248.30" y="48.6">Disunity(%)</text><text x="334.47" y="48.6">Unity(%)</text>
<text x="165.21" y="58.6">0</text><text x="248.30" y="58.6">100%</text><text x="334.47" y="58.6">0%</text>
<text x="165.21" y="68.3">0.1</text><text x="248.30" y="68.3">100%</text><text x="334.47" y="68.3">0%</text>
<text x="165.21" y="78.0">0.2</text><text x="248.30" y="78.0">8.33%</text><text x="334.47" y="78.0">91.67%</text>
<text x="165.21" y="87.7">0.3</text><text x="248.30" y="87.7">4.33%</text><text x="334.47" y="87.7">95.67%</text>
<text x="165.21" y="97.4">0.4</text><text x="248.30" y="97.4">4%</text><text x="334.47" y="97.4">96%</text>
<text x="165.21" y="107.1">0.5</text><text x="248.30" y="107.1">7.33%</text><text x="334.47" y="107.1">92.67%</text>
<text x="165.21" y="116.8">0.6</text><text x="248.30" y="116.8">1%</text><text x="334.47" y="116.8">99%</text>
<text x="165.21" y="126.5">0.7</text><text x="248.30" y="126.5">1%</text><text x="334.47" y="126.5">99%</text>
<text x="165.21" y="136.2">0.8</text><text x="248.30" y="136.2">1%</text><text x="334.47" y="136.2">99%</text>
<text x="165.21" y="145.9">0.9</text><text x="248.30" y="145.9">2.67%</text><text x="334.47" y="145.9">97.33%</text>
<text x="165.21" y="155.6">1</text><text x="248.30" y="155.6">2%</text><text x="334.47" y="155.6">98%</text>
</g>
</g>

<!-- decision tree -->
<g fill="none" stroke="#333" stroke-width="1">
<path d="M418.2 118.5H389V211"/>
<path d="M443.8 118.5H448.6"/>
<path d="M584.3 118.5H588.7"/>
<path d="M609 118.5H643.5V211"/>
</g>
<rect x="418.2" y="107.6" width="25.6" height="21.3" rx="3" ry="3" fill="#fff" stroke="#333" stroke-width="1"/>
<rect x="588.7" y="107.4" width="20.3" height="21.6" rx="3" ry="3" fill="#fff" stroke="#333" stroke-width="1"/>
<text class="s" x="430.1" y="121.1" font-size="9.6" font-style="italic" text-anchor="middle" fill="#222">yes</text>
<text class="s" x="598" y="120.9" font-size="9.6" font-style="italic" text-anchor="middle" fill="#222">no</text>
<text class="s" x="516.3" y="122.1" font-size="12" font-weight="bold" text-anchor="middle" fill="#000">Bellicosity &gt;= 0.15%?</text>

<path d="M489.4 41.3A18 13 0 0 1 507.4 28.3H529.8A18 13 0 0 1 547.8 41.3V84.2A18 13 0 0 1 529.8 97.2H507.4A18 13 0 0 1 489.4 84.2Z" fill="#FC8603" stroke="#222" stroke-width="1"/>
<path d="M362.3 224A18 13 0 0 1 380.3 211H404.9A18 13 0 0 1 422.9 224V268.8A18 13 0 0 1 404.9 281.8H380.3A18 13 0 0 1 362.3 268.8Z" fill="#FC8603" stroke="#222" stroke-width="1"/>
<path d="M613.4 223.8A18 13 0 0 1 631.4 210.8H656.5A18 13 0 0 1 674.5 223.8V266.6A18 13 0 0 1 656.5 279.6H631.4A18 13 0 0 1 613.4 266.6Z" fill="#03A088" stroke="#222" stroke-width="1"/>

<g class="s" font-size="12" text-anchor="middle" fill="#1a1a1a">
<text x="519.6" y="53">0</text>
<text x="518.6" y="67.6" xml:space="preserve">0.80  0.20</text>
<text x="518.3" y="82.1">100%</text>
<text x="391" y="235.9">0</text>
<text x="391.5" y="251" xml:space="preserve">0.97  0.03</text>
<text x="391.9" y="264.9">82%</text>
<text x="643.1" y="235.5">1</text>
<text x="643.4" y="250" xml:space="preserve">0.00  1.00</text>
<text x="643.6" y="263.9">18%</text>
</g>

<!-- legend B -->
<rect x="645" y="19.1" width="9.6" height="9.6" fill="#FC8603"/>
<text x="649.8" y="28.3" font-family="Liberation Serif,serif" font-size="10" text-anchor="middle" fill="#222">0</text>
<text class="s" x="656.5" y="28" font-size="7.5" fill="#000" stroke="#000" stroke-width="0.15">Unity</text>
<rect x="644.6" y="33.6" width="10.4" height="10.2" fill="#03A088"/>
<text x="649.8" y="42" font-family="Liberation Serif,serif" font-size="10" text-anchor="middle" fill="#222">1</text>
<text class="s" x="658" y="41.8" font-size="7.5" fill="#000" stroke="#000" stroke-width="0.15">Disunity</text>
</svg></div>
</body></html>
